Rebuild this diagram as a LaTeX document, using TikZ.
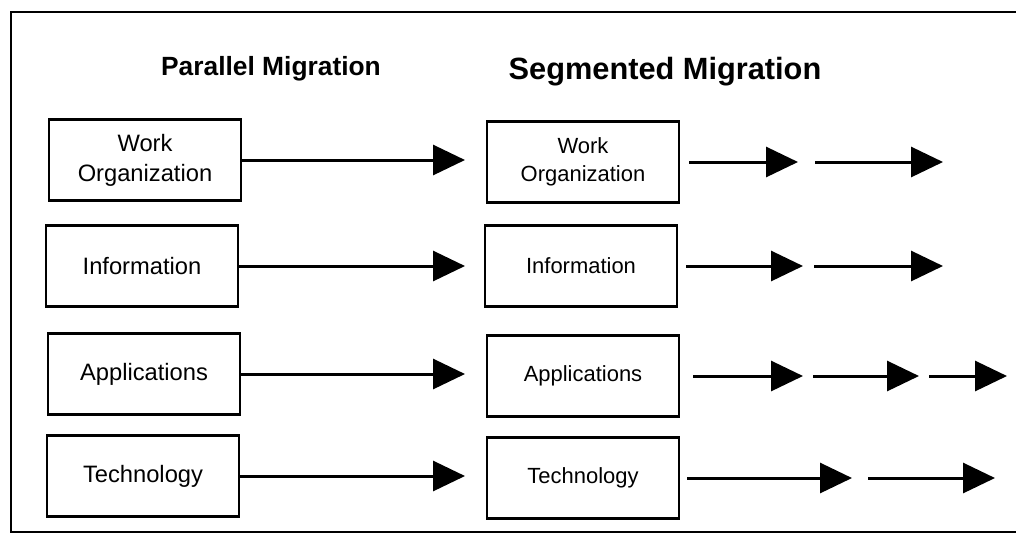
\documentclass[tikz,border=0pt]{standalone}
\usepackage{fontspec}
\setmainfont{Liberation Sans}
\usetikzlibrary{arrows.meta}
\tikzset{
  stage/.style={rectangle,draw,line width=1.4pt,minimum width=3.84cm,
                minimum height=1.62cm,inner sep=1pt,align=center,
                font=\fontsize{13.5}{17}\selectfont},
  segstage/.style={stage,font=\fontsize{12.5}{16}\selectfont},
  heading/.style={font=\bfseries\fontsize{15}{18}\selectfont},
  edge/.style={-{Triangle[length=6.4mm,width=6mm]},line width=1.7pt},
  frame/.style={line width=1.3pt},
}
\begin{document}
\begin{tikzpicture}[x=0.02cm,y=-0.02cm]
\useasboundingbox (0,0) rectangle (1016,542);
\draw[frame] (1016,12) -- (11,12) -- (11,532) -- (1016,532);
% headings
\node[heading] (partitle) at (271,69) {Parallel Migration};
\node[heading,font=\bfseries\fontsize{17.5}{20}\selectfont] (segtitle) at (665,72) {Segmented Migration};
% parallel column
\node[stage] (pwork) at (145,160) {Work\\Organization};
\node[stage] (pinfo) at (142,266) {Information};
\node[stage] (papps) at (144,374) {Applications};
\node[stage] (ptech) at (143,476) {Technology};
\coordinate (pworkend) at (465,160);
\coordinate (pinfoend) at (465,266);
\coordinate (pappsend) at (465,374);
\coordinate (ptechend) at (465,476);
\draw[edge] (pwork) -- (pworkend);
\draw[edge] (pinfo) -- (pinfoend);
\draw[edge] (papps) -- (pappsend);
\draw[edge] (ptech) -- (ptechend);
% segmented column
\node[segstage] (swork) at (583,162) {Work\\Organization};
\node[segstage] (sinfo) at (581,266) {Information};
\node[segstage] (sapps) at (583,376) {Applications};
\node[segstage] (stech) at (583,478) {Technology};
\coordinate (sworka) at (798,162);
\coordinate (sworkb) at (815,162);
\coordinate (sworkc) at (943,162);
\coordinate (sinfoa) at (803,266);
\coordinate (sinfob) at (814,266);
\coordinate (sinfoc) at (943,266);
\coordinate (sappsa) at (803,376);
\coordinate (sappsb) at (813,376);
\coordinate (sappsc) at (919,376);
\coordinate (sappsd) at (929,376);
\coordinate (sappse) at (1007,376);
\coordinate (stecha) at (852,478);
\coordinate (stechb) at (868,478);
\coordinate (stechc) at (995,478);
\draw[edge,shorten <=5pt] (swork) -- (sworka);
\draw[edge] (sworkb) -- (sworkc);
\draw[edge,shorten <=4.5pt] (sinfo) -- (sinfoa);
\draw[edge] (sinfob) -- (sinfoc);
\draw[edge,shorten <=7.5pt] (sapps) -- (sappsa);
\draw[edge] (sappsb) -- (sappsc);
\draw[edge] (sappsd) -- (sappse);
\draw[edge,shorten <=4pt] (stech) -- (stecha);
\draw[edge] (stechb) -- (stechc);
\end{tikzpicture}
\end{document}
